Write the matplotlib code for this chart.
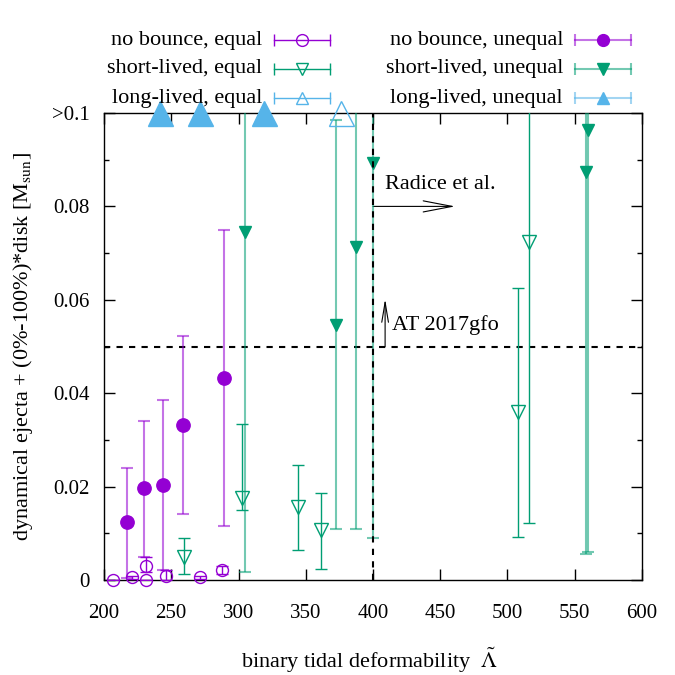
import numpy as np
import matplotlib
matplotlib.use('Agg')
import matplotlib.pyplot as plt
from matplotlib.lines import Line2D
from matplotlib.ticker import MultipleLocator

plt.rcParams['font.family'] = ['Liberation Serif', 'DejaVu Serif']
plt.rcParams['mathtext.fontset'] = 'stix'
plt.rcParams['font.size'] = 16

purple = '#9400d3'
green = '#009e73'
blue = '#56b4e9'

# no bounce, equal mass
nb_eq_lam = [207, 220.5, 231, 231, 246, 271.5, 287.5]
nb_eq_val = [0.0, 0.0006, 0.003, 0.0, 0.0009, 0.0006, 0.0021]
nb_eq_lo = [0.0, 0.0003, 0.0018, 0.0, 0.0, 0.0003, 0.0013]
nb_eq_hi = [0.0, 0.0009, 0.005, 0.0, 0.0021, 0.0009, 0.0029]

# no bounce, unequal mass
nb_un_lam = [217, 229.5, 244, 258.5, 289]
nb_un_val = [0.0124, 0.0197, 0.0204, 0.0332, 0.0432]
nb_un_lo = [0.0005, 0.005, 0.0021, 0.0141, 0.0116]
nb_un_hi = [0.0239, 0.0341, 0.0386, 0.0522, 0.0749]

# short-lived, equal mass
sl_eq_lam = [259.5, 302.5, 344, 361.5, 508, 516]
sl_eq_val = [0.005, 0.0175, 0.0157, 0.0107, 0.0359, 0.0724]
sl_eq_lo = [0.0013, 0.015, 0.0064, 0.0023, 0.0093, 0.0122]
sl_eq_hi = [0.0091, 0.0334, 0.0246, 0.0186, 0.0626, 0.12]

# short-lived, unequal mass
sl_un_lam = [304.5, 372.5, 387.5, 399.7, 558.5, 560]
sl_un_val = [0.0746, 0.0546, 0.0714, 0.0893, 0.0873, 0.0964]
sl_un_lo = [0.0018, 0.0109, 0.0109, 0.0089, 0.0055, 0.0061]
sl_un_hi = [0.12, 0.0984, 0.12, 0.12, 0.12, 0.12]

# long-lived (off scale, > 0.1)
ll_eq_lam = [376]
ll_un_lam = [241.5, 271.5, 319]
top_val = 0.1

ytick_vals = [0, 0.02, 0.04, 0.06, 0.08, 0.1]
ytick_labels = ['0', '0.02', '0.04', '0.06', '0.08', '>0.1']
xtick_vals = [200, 250, 300, 350, 400, 450, 500, 550, 600]

fig = plt.figure(figsize=(6.75, 6.75), dpi=100)
ax = fig.add_axes([104 / 675, 1 - 580 / 675, 538 / 675, 467 / 675])


def draw(lam, val, lo, hi, color, lw, alpha, marker, filled, ms, z):
    lam = np.array(lam)
    val = np.array(val)
    yerr = [val - np.array(lo), np.array(hi) - val]
    ax.errorbar(lam, val, yerr=yerr, fmt='none', ecolor=color, elinewidth=lw,
                capsize=4, capthick=lw, alpha=alpha, zorder=z)
    ax.plot(lam, val, ls='none', marker=marker, ms=ms, mew=1, mec=color,
            mfc=color if filled else 'none', zorder=z + 1, clip_on=False)


draw(nb_eq_lam, nb_eq_val, nb_eq_lo, nb_eq_hi, purple, 1.0, 1.0, 'o', False, 8.6, 5)
draw(nb_un_lam, nb_un_val, nb_un_lo, nb_un_hi, purple, 1.5, 0.55, 'o', True, 9.6, 5)
draw(sl_eq_lam, sl_eq_val, sl_eq_lo, sl_eq_hi, green, 1.0, 1.0, 'v', False, 10, 5)
draw(sl_un_lam, sl_un_val, sl_un_lo, sl_un_hi, green, 1.5, 0.55, 'v', True, 9, 5)

ax.plot(ll_eq_lam, [top_val] * len(ll_eq_lam), ls='none', marker='^', ms=18,
        mew=1, mec=blue, mfc='none', clip_on=False, zorder=7)
ax.plot(ll_un_lam, [top_val] * len(ll_un_lam), ls='none', marker='^', ms=18,
        mew=1, mec=blue, mfc=blue, clip_on=False, zorder=7)

# reference lines
ax.axhline(0.05, color='black', lw=1.5, ls=(0, (3, 3)), zorder=3)
ax.axvline(400, color='black', lw=1.5, ls=(0, (3, 3)), zorder=8)

ax.annotate('', xy=(461, 0.08), xytext=(400, 0.08),
            arrowprops=dict(arrowstyle='->,head_length=1.3,head_width=0.25', color='black',
                            lw=0.8, shrinkA=0, shrinkB=0))
ax.text(409, 0.0846, 'Radice et al.', ha='left', va='center')
ax.annotate('', xy=(409, 0.0602), xytext=(409, 0.05),
            arrowprops=dict(arrowstyle='->,head_length=0.9,head_width=0.15', color='black',
                            lw=0.8, shrinkA=0, shrinkB=0))
ax.text(414, 0.0546, 'AT 2017gfo', ha='left', va='center')

ax.set_xlim(200, 600)
ax.set_ylim(0, 0.1)
ax.set_xticks(xtick_vals)
ax.set_yticks(ytick_vals)
ax.set_yticklabels(ytick_labels)
ax.yaxis.set_minor_locator(MultipleLocator(0.01))
ax.tick_params(which='both', direction='in', top=True, right=True)
ax.tick_params(which='major', length=8, width=1)
ax.tick_params(which='minor', length=3.5, width=1)
ax.tick_params(axis='y', pad=10, labelsize=15)
ax.tick_params(axis='x', pad=17, labelsize=15)
for s in ax.spines.values():
    s.set_linewidth(1)

ax.set_xlabel(r'binary tidal deformability  $\tilde{\Lambda}$')
ax.xaxis.set_label_coords(0.494, -0.14)
ax.set_ylabel(r'dynamical ejecta + (0%-100%)*disk [M$_{\mathrm{sun}}$]')
ax.yaxis.set_label_coords(-0.128, 0.5)

# legend, gnuplot style: label on the left, sample on the right
rows = [40, 69, 98]
entries = [
    (262, 274, 330, 0, 'no bounce, equal', purple, 'o', False, 1.0, 1.0),
    (262, 274, 330, 1, 'short-lived, equal', green, 'v', False, 1.0, 1.0),
    (262, 274, 330, 2, 'long-lived, equal', blue, '^', False, 1.0, 1.0),
    (563, 575, 631, 0, 'no bounce, unequal', purple, 'o', True, 1.5, 0.55),
    (563, 575, 631, 1, 'short-lived, unequal', green, 'v', True, 1.5, 0.55),
    (563, 575, 631, 2, 'long-lived, unequal', blue, '^', True, 1.5, 0.55),
]
for xt, x0, x1, r, label, c, m, filled, lw, a in entries:
    yy = 1 - rows[r] / 675
    fig.text(xt / 675, yy, label, ha='right', va='center')
    fig.add_artist(Line2D([x0 / 675, x1 / 675], [yy, yy], color=c, lw=lw, alpha=a,
                          transform=fig.transFigure))
    fig.add_artist(Line2D([x0 / 675, x1 / 675], [yy, yy], ls='none', marker='|', ms=9,
                          mew=lw, color=c, alpha=a, transform=fig.transFigure))
    fig.add_artist(Line2D([(x0 + x1) / 2 / 675], [yy], ls='none', marker=m, ms=8.5,
                          mew=1, mec=c, mfc=c if filled else 'none',
                          transform=fig.transFigure))

fig.savefig('out.png', dpi=100)
